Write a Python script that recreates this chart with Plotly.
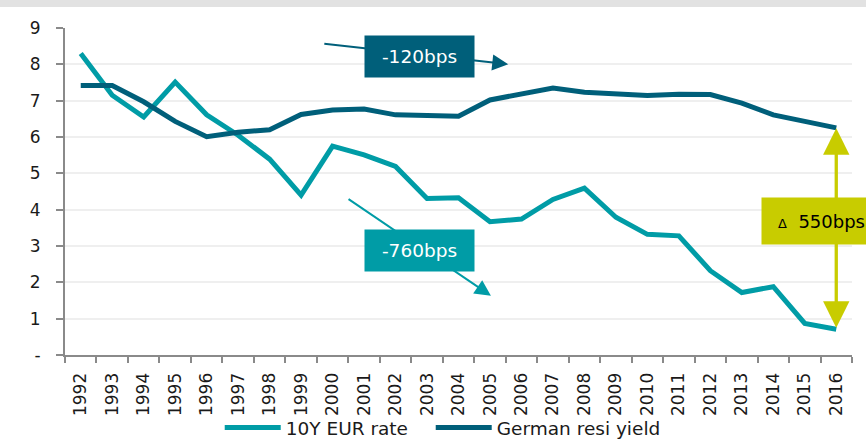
import plotly.graph_objects as go

years = [str(y) for y in range(1992, 2017)]
eur_10y = [8.30, 7.15, 6.55, 7.51, 6.61, 6.05, 5.39, 4.40, 5.75, 5.51, 5.19, 4.31, 4.33,
           3.67, 3.74, 4.28, 4.59, 3.79, 3.32, 3.28, 2.32, 1.72, 1.88, 0.87, 0.71]
german_resi = [7.42, 7.42, 6.97, 6.43, 6.01, 6.13, 6.20, 6.62, 6.74, 6.77, 6.61, 6.58, 6.57,
               7.02, 7.20, 7.35, 7.23, 7.18, 7.14, 7.18, 7.17, 6.93, 6.61, 6.43, 6.25]
y_ticks = [0, 1, 2, 3, 4, 5, 6, 7, 8, 9]
y_ticktext = ["-", "1", "2", "3", "4", "5", "6", "7", "8", "9"]

TEAL = "#009ca6"
DARK = "#005f7a"
LIME = "#c8cc00"
FONT = "Verdana, DejaVu Sans, sans-serif"

fig = go.Figure()
fig.add_trace(go.Scatter(x=years, y=eur_10y, mode="lines", name="10Y EUR rate",
                         line=dict(color=TEAL, width=5), legendwidth=140))
fig.add_trace(go.Scatter(x=years, y=german_resi, mode="lines", name="German resi yield",
                         line=dict(color=DARK, width=5)))

# top grey band
fig.add_shape(type="rect", xref="paper", yref="paper", x0=-0.1, x1=1.1,
              y0=1.0642, y1=1.1, fillcolor="#e2e2e2", line_width=0, layer="below")

# -120bps arrow + box
fig.add_annotation(x=13.58, y=8.0, ax=7.69, ay=8.57, xref="x", yref="y", axref="x", ayref="y",
                   text="", showarrow=True, arrowhead=2, arrowsize=1.6, arrowwidth=2,
                   arrowcolor=DARK)
fig.add_annotation(x=10.76, y=8.22, xref="x", yref="y", text="-120bps", showarrow=False,
                   xanchor="center", yanchor="middle",
                   bgcolor=DARK, width=109, height=41, borderpad=0,
                   font=dict(color="white", size=18.5, family=FONT))

# -760bps arrow + box
fig.add_annotation(x=13.03, y=1.63, ax=8.46, ay=4.32, xref="x", yref="y", axref="x", ayref="y",
                   text="", showarrow=True, arrowhead=2, arrowsize=1.6, arrowwidth=2,
                   arrowcolor=TEAL)
fig.add_annotation(x=10.76, y=2.88, xref="x", yref="y", text="-760bps", showarrow=False,
                   xanchor="center", yanchor="middle",
                   bgcolor=TEAL, width=109, height=41, borderpad=0,
                   font=dict(color="white", size=18.5, family=FONT))

# spread double arrow
fig.add_annotation(x=24, y=6.24, ax=24, ay=0.71, xref="x", yref="y", axref="x", ayref="y",
                   text="", showarrow=True, arrowhead=2, arrowsize=1.6, arrowwidth=3.3,
                   arrowside="end+start", startarrowhead=2, startarrowsize=1.6,
                   arrowcolor=LIME)
fig.add_annotation(x=0.9617, y=3.70, xref="paper", yref="y", xanchor="center", yanchor="middle",
                   text="<span style='font-size:13px'>Δ</span>\u00a0\u00a0550bps",
                   showarrow=False, bgcolor=LIME, width=119, height=46, borderpad=0,
                   font=dict(color="black", size=18, family=FONT))

fig.update_layout(
    width=866, height=440,
    margin=dict(l=65, r=14.3, t=28, b=85, autoexpand=False),
    paper_bgcolor="white", plot_bgcolor="white",
    font=dict(family=FONT, size=17, color="#1a1a1a"),
    showlegend=True,
    legend=dict(orientation="h", x=0.1966, y=-0.223, xanchor="left", yanchor="middle",
                font=dict(size=18.5, family=FONT), itemwidth=56,
                bgcolor="rgba(0,0,0,0)"),
    xaxis=dict(type="category", range=[-0.5, 24.5], showgrid=False, automargin=False,
               showline=True, linecolor="#8a8a8a", linewidth=2,
               ticks="outside", ticklen=6, tickcolor="#8a8a8a", tickwidth=1.5,
               tickson="boundaries", tickangle=-90, tickfont=dict(size=17),
               ticklabelstandoff=9),
    yaxis=dict(range=[0, 9], tickvals=y_ticks, ticktext=y_ticktext, automargin=False,
               showgrid=True, gridcolor="#efefef", gridwidth=1.5,
               showline=True, linecolor="#8a8a8a", linewidth=2,
               ticks="outside", ticklen=7, tickcolor="#8a8a8a", tickwidth=1.5,
               ticklabelstandoff=12, zeroline=False, tickfont=dict(size=17)),
)

fig.write_html("out.html", config={"displayModeBar": False},
               post_script="document.body.style.margin='0px';")
